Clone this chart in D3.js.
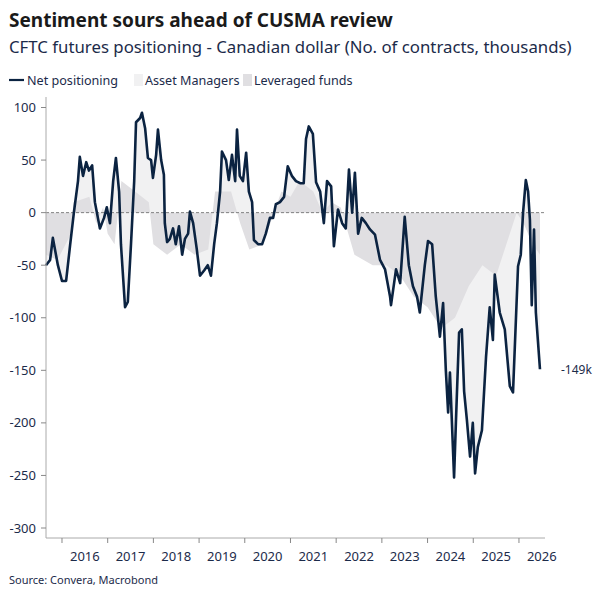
<!DOCTYPE html>
<html lang="en">
<head>
<meta charset="UTF-8">
<title>CAD positioning</title>
<script src="https://cdn.jsdelivr.net/npm/d3@7"></script>
<style>
  body { margin: 0; background: #fff; }
  text { font-family: "Noto Sans", "Open Sans", sans-serif; fill: #1c2b4a; }
</style>
</head>
<body>
<svg id="chart" width="601" height="601"></svg>
<script>
// net positioning, thousands of contracts (decimal year, value)
var netDates = [2015.65,2015.74,2015.80,2015.91,2016.00,2016.09,2016.18,2016.26,2016.35,2016.39,2016.46,2016.53,2016.59,2016.66,2016.72,2016.83,2016.92,2016.98,2017.05,2017.12,2017.18,2017.25,2017.29,2017.38,2017.44,2017.51,2017.58,2017.62,2017.71,2017.75,2017.82,2017.88,2017.95,2017.99,2018.06,2018.10,2018.17,2018.23,2018.25,2018.30,2018.36,2018.43,2018.49,2018.56,2018.63,2018.69,2018.76,2018.80,2018.87,2018.95,2019.02,2019.11,2019.19,2019.26,2019.33,2019.39,2019.46,2019.50,2019.59,2019.65,2019.72,2019.79,2019.83,2019.89,2019.96,2020.03,2020.09,2020.16,2020.20,2020.29,2020.38,2020.46,2020.55,2020.62,2020.68,2020.77,2020.86,2020.94,2021.03,2021.12,2021.21,2021.29,2021.34,2021.40,2021.49,2021.56,2021.65,2021.69,2021.73,2021.80,2021.89,2021.95,2022.04,2022.13,2022.21,2022.28,2022.35,2022.41,2022.48,2022.56,2022.65,2022.74,2022.85,2022.96,2023.07,2023.18,2023.20,2023.31,2023.40,2023.50,2023.59,2023.68,2023.77,2023.83,2023.94,2024.01,2024.10,2024.18,2024.27,2024.34,2024.40,2024.45,2024.49,2024.58,2024.62,2024.69,2024.75,2024.80,2024.86,2024.93,2024.99,2025.04,2025.10,2025.19,2025.28,2025.36,2025.43,2025.47,2025.58,2025.69,2025.80,2025.87,2025.98,2026.04,2026.09,2026.15,2026.20,2026.24,2026.28,2026.33,2026.37,2026.46];
var netValues = [-50,-45,-24,-50,-65,-65,-30,0,30,53,35,48,40,45,10,-15,-5,5,-10,30,52,20,-30,-90,-85,-30,30,86,90,95,80,52,50,33,55,79,50,36,-10,-28,-25,-15,-30,-13,-40,-25,-20,1,-10,-35,-60,-55,-50,-60,-30,-10,20,58,50,31,55,30,79,35,30,57,20,10,-26,-30,-30,-20,-5,-5,8,10,15,44,35,30,28,28,70,82,75,29,20,5,-10,30,25,-32,3,-10,-15,41,0,38,-20,-5,-10,-16,-21,-45,-54,-80,-88,-54,-67,-4,-50,-70,-80,-95,-50,-27,-30,-80,-118,-86,-150,-190,-152,-252,-200,-114,-111,-170,-197,-232,-200,-248,-223,-207,-137,-90,-121,-59,-95,-111,-165,-171,-51,-40,0,31,20,-7,-88,-16,-95,-149];

// leveraged funds, thousands of contracts
var levDates = [2015.65,2015.9,2016.2,2016.25,2016.6,2016.75,2016.9,2017.0,2017.15,2017.3,2017.6,2017.9,2018.0,2018.3,2018.6,2018.9,2019.2,2019.35,2019.7,2019.9,2020.1,2020.4,2020.6,2020.8,2021.0,2021.2,2021.5,2021.7,2021.9,2022.1,2022.4,2022.8,2023.1,2023.4,2023.7,2024.0,2024.3,2024.6,2024.9,2025.2,2025.5,2025.8,2025.95,2026.1,2026.3,2026.46];
var levValues = [-40,-45,-20,10,15,-10,5,-20,-30,30,20,10,-30,-40,-30,-40,-35,20,20,-10,-35,-30,-5,20,15,30,20,0,10,5,-40,-50,-50,-60,-80,-90,-110,-100,-70,-50,-60,-20,0,-10,-30,-40];

var yTicks = [100,50,0,-50,-100,-150,-200,-250,-300];
var yearLabels = [2016,2017,2018,2019,2020,2021,2022,2023,2024,2025,2026];

var svg = d3.select("#chart");
var m = {left: 46, right: 545, top: 97, bottom: 538};

var x = d3.scaleLinear().domain([2015.65, 2026.57]).range([m.left, m.right]);
var y = d3.scaleLinear().domain([110, -309.5]).range([m.top, m.bottom]);

var net = netDates.map(function(d, i) { return {t: d, v: netValues[i]}; });
var lev = levDates.map(function(d, i) { return {t: d, v: levValues[i]}; });

var area = d3.area().x(function(d) { return x(d.t); }).y0(y(0)).y1(function(d) { return y(d.v); });

svg.append("path").datum(net).attr("d", area).attr("fill", "#f1f1f2");
svg.append("path").datum(lev).attr("d", area).attr("fill", "#e0dfe2");

// zero line
svg.append("line").attr("x1", m.left).attr("x2", m.right).attr("y1", y(0)).attr("y2", y(0))
  .attr("stroke", "#666").attr("stroke-dasharray", "3,2").attr("stroke-width", 0.8);

svg.append("path").datum(net)
  .attr("d", d3.line().x(function(d) { return x(d.t); }).y(function(d) { return y(d.v); }))
  .attr("fill", "none").attr("stroke", "#0b2341").attr("stroke-width", 2.6).attr("stroke-linejoin", "round");

// axes
svg.append("line").attr("x1", m.left).attr("x2", m.left).attr("y1", m.top).attr("y2", m.bottom).attr("stroke", "#aaa");
svg.append("line").attr("x1", m.left).attr("x2", m.right).attr("y1", m.bottom).attr("y2", m.bottom).attr("stroke", "#aaa");

yTicks.forEach(function(t) {
  svg.append("line").attr("x1", m.left - 5).attr("x2", m.left).attr("y1", y(t)).attr("y2", y(t)).attr("stroke", "#888");
  svg.append("text").attr("x", m.left - 10).attr("y", y(t) + 4.5).attr("text-anchor", "end")
    .attr("font-size", 13).text(t);
});

yearLabels.forEach(function(yr) {
  svg.append("line").attr("x1", x(yr)).attr("x2", x(yr)).attr("y1", m.bottom).attr("y2", m.bottom + 5).attr("stroke", "#888");
  svg.append("text").attr("x", x(yr + 0.5)).attr("y", m.bottom + 23).attr("text-anchor", "middle")
    .attr("font-size", 13).text(yr);
});

svg.append("text").attr("x", 561).attr("y", y(-149) + 5).attr("font-size", 12).text("-149k");

// titles
svg.append("text").attr("x", 9).attr("y", 27).attr("font-size", 19).attr("font-weight", "bold")
  .style("fill", "#1a1a1a").text("Sentiment sours ahead of CUSMA review");
svg.append("text").attr("x", 9).attr("y", 53).attr("font-size", 16.8).text("CFTC futures positioning - Canadian dollar (No. of contracts, thousands)");

// legend
var lg = svg.append("g").attr("transform", "translate(9,80)");
lg.append("line").attr("x1", 0).attr("x2", 15).attr("y1", 0).attr("y2", 0).attr("stroke", "#0b2341").attr("stroke-width", 2.2);
lg.append("text").attr("x", 18).attr("y", 4.5).attr("font-size", 12.6).text("Net positioning");
lg.append("rect").attr("x", 125).attr("y", -6).attr("width", 9).attr("height", 12).attr("fill", "#f1f1f2");
lg.append("text").attr("x", 136).attr("y", 4.5).attr("font-size", 12.6).text("Asset Managers");
lg.append("rect").attr("x", 234).attr("y", -6).attr("width", 9).attr("height", 12).attr("fill", "#e0dfe2");
lg.append("text").attr("x", 245).attr("y", 4.5).attr("font-size", 12.6).text("Leveraged funds");

svg.append("text").attr("x", 9).attr("y", 584).attr("font-size", 11).text("Source: Convera, Macrobond");
</script>
</body>
</html>
